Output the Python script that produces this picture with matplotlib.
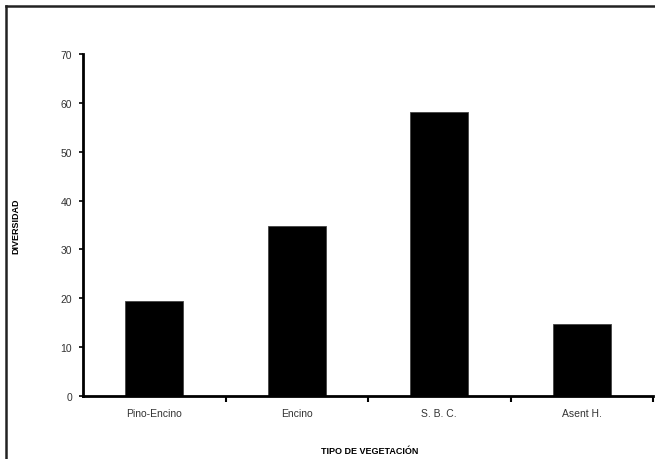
import matplotlib
matplotlib.use("Agg")
import matplotlib.pyplot as plt
from matplotlib.lines import Line2D

categories = ["Pino-Encino", "Encino", "S. B. C.", "Asent H."]
values = [19.5, 34.7, 58.1, 14.8]
yticks = [0, 10, 20, 30, 40, 50, 60, 70]

plt.rcParams['font.family'] = ['Liberation Sans', 'DejaVu Sans']

fig = plt.figure(figsize=(6.55, 4.6), dpi=100)
ax = fig.add_axes([83/655, (460-397)/460, 570/655, 342/460])

x = list(range(len(categories)))
ax.bar(x, values, width=0.41, color='black', edgecolor='#444444', linewidth=0.6)

ax.set_xlim(-0.5, len(categories) - 0.5)
ax.set_ylim(0, 70)
ax.set_yticks(yticks)
ax.set_yticklabels([str(t) for t in yticks], fontsize=7.5, color='#333333')

ax.set_xticks([i - 0.5 for i in range(1, len(categories) + 1)])
ax.set_xticklabels([])
ax.set_xticks(x, minor=True)
ax.set_xticklabels(categories, minor=True, fontsize=7.5, color='#333333')
ax.tick_params(axis='x', which='minor', length=0, pad=9)
ax.tick_params(axis='x', which='major', length=4, width=1.5, direction='out', color='black')
ax.tick_params(axis='y', length=3, width=1.2, direction='out', pad=5)

for s in ['top', 'right']:
    ax.spines[s].set_visible(False)
for s in ['left', 'bottom']:
    ax.spines[s].set_linewidth(2)

ax.set_ylabel("DIVERSIDAD", fontsize=6.5, fontweight='bold')
ax.yaxis.set_label_coords(-63/570, 0.5)
ax.set_xlabel("TIPO DE VEGETACIÓN", fontsize=6.5, fontweight='bold')
ax.xaxis.set_label_coords(287/570, -50/342)

# outer frame (left and top edges)
fig.add_artist(Line2D([6/655, 6/655], [0, 1 - 7/460], transform=fig.transFigure, color='#222222', linewidth=1.8))
fig.add_artist(Line2D([6/655, 1], [1 - 7/460, 1 - 7/460], transform=fig.transFigure, color='#222222', linewidth=1.8))

fig.savefig("out.png", dpi=100)
